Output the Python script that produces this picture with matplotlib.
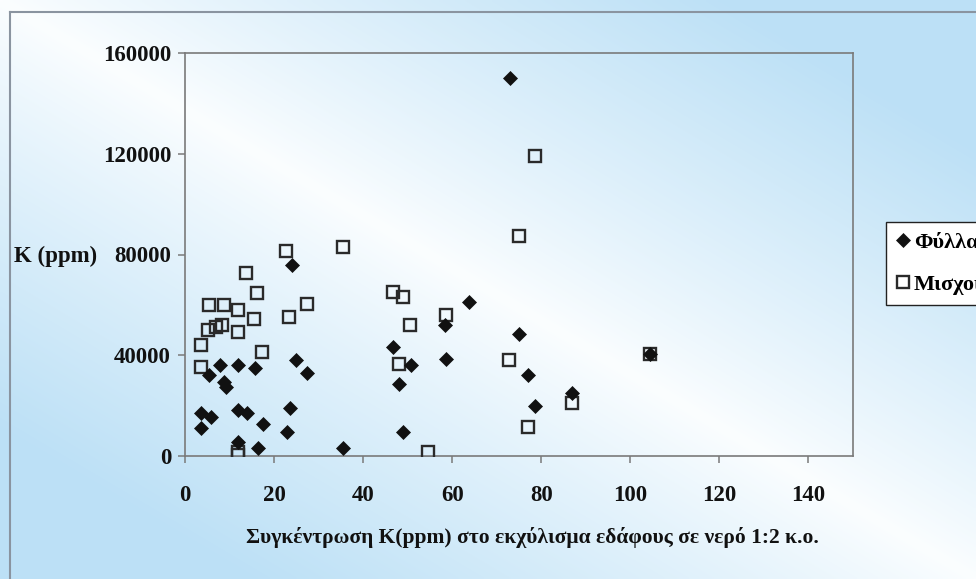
import numpy as np
import matplotlib
matplotlib.use("Agg")
import matplotlib.pyplot as plt
from matplotlib.lines import Line2D

# ---- data ----
leaves_label = "Φύλλα"
petioles_label = "Μισχοί"
leaves_x = [72.9, 24.0, 63.8, 58.3, 75.1, 46.8, 104.5, 24.9, 58.6, 7.9, 12.0, 50.8,
            15.7, 27.5, 77.1, 5.4, 8.8, 9.2, 48.1, 87.0, 78.7, 23.6, 12.0, 13.9,
            3.7, 5.8, 17.5, 3.7, 22.9, 49.0, 12.0, 16.3, 35.4]
leaves_y = [150000, 75900, 61100, 51900, 48600, 43300, 40500, 38300, 38400, 36000, 36000, 36000,
            35000, 33000, 32300, 32100, 29400, 27400, 28400, 25200, 19900, 19100, 18200, 17100,
            17100, 15600, 12900, 11000, 9600, 9600, 5700, 3000, 3000]
petioles_x = [78.6, 75.0, 35.4, 22.7, 13.7, 46.7, 16.2, 48.9, 27.3, 5.5, 8.8, 11.8,
              58.6, 23.4, 15.5, 50.6, 8.2, 7.0, 5.2, 11.8, 3.6, 17.2, 104.5, 72.7,
              48.1, 3.6, 86.9, 77.0, 54.5, 11.8, 11.8]
petioles_y = [119200, 87200, 82900, 81300, 72600, 65300, 64700, 63100, 60200, 59800, 59800, 57800,
              56100, 55200, 54500, 52200, 51900, 51300, 50200, 49200, 44000, 41300, 40500, 38300,
              36700, 35400, 21100, 11600, 1700, 1700, 300]
x_ticks = [0, 20, 40, 60, 80, 100, 120, 140]
y_ticks = [0, 40000, 80000, 120000, 160000]
x_label = "Συγκέντρωση K(ppm) στο εκχύλισμα εδάφους σε νερό 1:2 κ.ο."
y_label = "K (ppm)"

plt.rcParams['font.family'] = ['Liberation Serif', 'DejaVu Serif']
plt.rcParams['font.weight'] = 'bold'

W, H = 976, 579
fig = plt.figure(figsize=(W / 100, H / 100), dpi=100)

# background gradient
bg = fig.add_axes([0, 0, 1, 1], zorder=-10)
xx, yy = np.meshgrid(np.linspace(0, 1, 300), np.linspace(0, 1, 200))
t = np.clip(np.abs(xx - yy) * 1.35, 0, 1) ** 0.9
white = np.array([0.985, 0.995, 1.0])
blue = np.array([0.74, 0.88, 0.965])
img = white[None, None, :] * (1 - t[..., None]) + blue[None, None, :] * t[..., None]
bg.imshow(img, aspect='auto', extent=[0, 1, 1, 0], interpolation='bilinear')
bg.set_xlim(0, 1)
bg.set_ylim(1, 0)
bg.axis('off')

# outer chart frame (left and top edges)
fig.add_artist(Line2D([10 / W, 10 / W], [0, 1 - 12 / H], color='#8a94a0', lw=1.5))
fig.add_artist(Line2D([10 / W, 1], [1 - 12 / H, 1 - 12 / H], color='#8a94a0', lw=1.5))

ax = fig.add_axes([185 / W, 1 - 456 / H, (853 - 185) / W, (456 - 53) / H])
ax.set_facecolor('none')

ax.plot(petioles_x, petioles_y, linestyle='none', marker='s', markersize=8.5,
        markerfacecolor='none', markeredgecolor='#2a2a2a', markeredgewidth=1.7,
        label=petioles_label, zorder=3)
ax.plot(leaves_x, leaves_y, linestyle='none', marker='D', markersize=7.6,
        markerfacecolor='#111111', markeredgecolor='#111111', markeredgewidth=0.5,
        label=leaves_label, zorder=4)

ax.set_xlim(0, 150)
ax.set_ylim(0, 160000)
ax.set_xticks(x_ticks)
ax.set_yticks(y_ticks)
ax.set_xticklabels([str(v) for v in x_ticks])
ax.set_yticklabels([str(v) for v in y_ticks])

for s in ax.spines.values():
    s.set_color('#7a7a7a')
    s.set_linewidth(1.2)

ax.tick_params(axis='both', direction='out', length=5, width=1.1, color='#7a7a7a',
               labelsize=16.5, labelcolor='#111111')
ax.tick_params(axis='x', pad=16)
ax.tick_params(axis='y', pad=5)
for lab in ax.get_xticklabels() + ax.get_yticklabels():
    lab.set_fontweight('bold')

ax.set_xlabel(x_label, fontsize=15.5, fontweight='bold', color='#111111')
ax.xaxis.set_label_coords((532 - 185) / (853 - 185), -(537 - 456) / (456 - 53))
ax.xaxis.label.set_va('center')
ax.set_ylabel(y_label, fontsize=16.5, fontweight='bold', color='#111111', rotation=0)
ax.yaxis.set_label_coords((56 - 185) / (853 - 185), (456 - 256) / (456 - 53))
ax.yaxis.label.set_va('center')
ax.yaxis.label.set_ha('center')

# legend (partially outside the figure, as in the reference)
handles, labels = ax.get_legend_handles_labels()
handles = handles[::-1]
labels = labels[::-1]
leg = fig.legend(handles, labels, loc='upper left',
                 bbox_to_anchor=(886 / W, 1 - 222 / H), borderaxespad=0,
                 frameon=True, fancybox=False, edgecolor='#222222', facecolor='white',
                 framealpha=1, prop={'family': 'Liberation Serif', 'weight': 'bold', 'size': 16},
                 handlelength=0.6, handletextpad=0.2, labelspacing=0.95,
                 borderpad=0.45)
leg.get_frame().set_linewidth(1.0)

fig.savefig('out.png', dpi=100)
